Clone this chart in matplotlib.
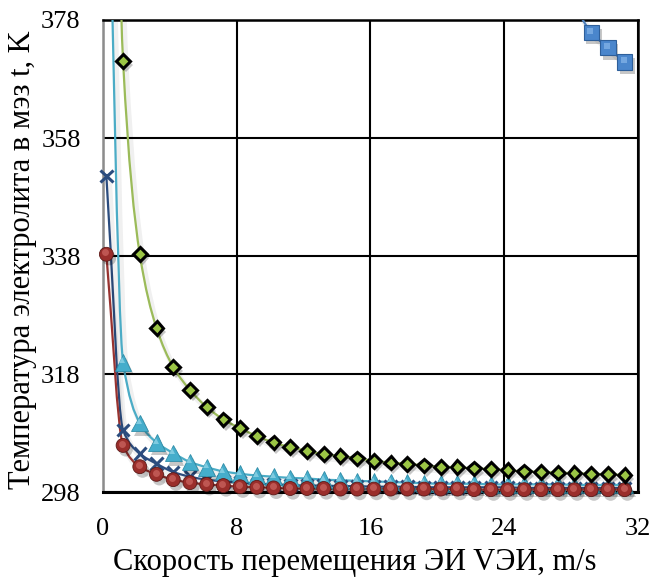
import numpy as np
import matplotlib
matplotlib.use("Agg")
import matplotlib.pyplot as plt
from matplotlib.path import Path
from matplotlib.patches import PathPatch
from matplotlib.transforms import Bbox, TransformedBbox, offset_copy
import matplotlib.patheffects as pe

plt.rcParams["font.family"] = ["Liberation Serif", "DejaVu Serif"]

# velocity of the electrode tool, m/s
x = [0.2, 1.2, 2.2, 3.2, 4.2, 5.2, 6.2, 7.2, 8.2, 9.2, 10.2, 11.2, 12.2, 13.2, 14.2, 15.2,
     16.2, 17.2, 18.2, 19.2, 20.2, 21.2, 22.2, 23.2, 24.2, 25.2, 26.2, 27.2, 28.2, 29.2, 30.2, 31.2]

t_diamond = [520.0, 371.0, 338.3, 325.8, 319.2, 315.3, 312.4, 310.3, 308.8, 307.5, 306.4, 305.6,
             305.0, 304.4, 304.1, 303.7, 303.3, 303.0, 302.8, 302.5, 302.3, 302.2, 302.0, 301.9,
             301.7, 301.5, 301.4, 301.3, 301.2, 301.1, 301.0, 300.9]
t_triangle = [422.0, 320.0, 309.7, 306.4, 304.6, 303.1, 302.2, 301.5, 301.1, 300.8, 300.6, 300.4,
              300.3, 300.1, 300.0, 299.9, 299.8, 299.7, 299.6, 299.5, 299.4, 299.4, 299.4, 299.3,
              299.3, 299.3, 299.3, 299.3, 299.2, 299.2, 299.2, 299.2]
t_cross = [351.6, 308.5, 304.5, 302.8, 301.4, 300.6, 300.1, 299.8, 299.6, 299.4, 299.3, 299.2,
           299.1, 299.1, 299.0, 299.0, 298.9, 298.9, 298.9, 298.8, 298.8, 298.8, 298.8, 298.8,
           298.8, 298.7, 298.7, 298.7, 298.7, 298.7, 298.7, 298.7]
t_circle = [338.3, 305.9, 302.3, 301.0, 300.1, 299.6, 299.3, 299.1, 298.9, 298.8, 298.7, 298.6,
            298.6, 298.6, 298.5, 298.5, 298.5, 298.5, 298.5, 298.5, 298.5, 298.5, 298.4, 298.4,
            298.4, 298.4, 298.4, 298.4, 298.4, 298.4, 298.4, 298.4]
x_square = [24.2, 25.2, 26.2, 27.2, 28.2, 29.2, 30.2, 31.2]
t_square = [392.0, 388.3, 384.8, 382.0, 380.0, 375.9, 373.3, 370.9]

xticks = [0, 8, 16, 24, 32]
yticks = [298, 318, 338, 358, 378]


def smooth_path(xs, ys):
    # monotone cubic (Bezier form) through the points, like the smoothed lines of the original
    xs = np.asarray(xs, float)
    ys = np.asarray(ys, float)
    h = np.diff(xs)
    d = np.diff(ys) / h
    m = np.empty_like(ys)
    m[0], m[-1] = d[0], d[-1]
    for i in range(1, len(ys) - 1):
        if d[i - 1] * d[i] <= 0:
            m[i] = 0.0
        else:
            m[i] = 2.0 / (1.0 / d[i - 1] + 1.0 / d[i])
    verts = [(xs[0], ys[0])]
    codes = [Path.MOVETO]
    for i in range(len(xs) - 1):
        verts += [(xs[i] + h[i] / 3, ys[i] + m[i] * h[i] / 3),
                  (xs[i + 1] - h[i] / 3, ys[i + 1] - m[i + 1] * h[i] / 3),
                  (xs[i + 1], ys[i + 1])]
        codes += [Path.CURVE4] * 3
    return Path(verts, codes)


fig = plt.figure(figsize=(6.52, 5.83), dpi=100)
ax = fig.add_axes([0.158, 0.156, 0.8205, 0.8097])

line_fx = [pe.SimpleLineShadow(offset=(2, -3), alpha=0.06, shadow_color="k", linewidth=4), pe.Normal()]
mark_fx = [pe.SimplePatchShadow(offset=(2, -3), alpha=0.22, shadow_rgbFace="k"), pe.Normal()]

# markers may hang a little below and right of the frame, but not above it
mark_clip = TransformedBbox(Bbox([[-0.03, -0.04], [1.03, 1.0]]), ax.transAxes)
shine = offset_copy(ax.transData, fig=fig, x=-1.0, y=1.8, units="dots")

series = [
    (x, t_cross, "#2B4C7E", dict(marker="x", ms=9, mew=2.2, mec="#2B4C7E", mfc="#2B4C7E"), None),
    (x, t_triangle, "#4BACC6", dict(marker="^", ms=12, mew=0.6, mec="#2F8DA8", mfc="#45ADCB"),
     dict(marker="^", ms=5, mew=0, mfc="#8ED3E6")),
    (x, t_circle, "#983330", dict(marker="o", ms=10, mew=0.6, mec="#5E1A18", mfc="#9A2E2B"),
     dict(marker="o", ms=5, mew=0, mfc="#C8615C")),
    (x, t_diamond, "#9BBB59", dict(marker="D", ms=7, mew=2.2, mec="black", mfc="#9BC545"),
     None),
    (x_square, t_square, "#4F81BD", dict(marker="s", ms=11, mew=0.8, mec="#2E5F9A", mfc="#4A86CC"),
     dict(marker="s", ms=5, mew=0, mfc="#7FB0E6")),
]

for z, (xs, ys, col, mk, hi) in enumerate(series):
    patch = PathPatch(smooth_path(xs, ys), fill=False, edgecolor=col, lw=1.6,
                      zorder=3 + z * 0.1, path_effects=line_fx)
    ax.add_patch(patch)
    (mline,) = ax.plot(xs, ys, ls="none", zorder=4 + z * 0.1, path_effects=mark_fx, **mk)
    mline.set_clip_box(mark_clip)
    if hi is not None:
        (hline,) = ax.plot(xs, ys, ls="none", zorder=4.05 + z * 0.1, alpha=0.8,
                           transform=shine, **hi)
        hline.set_clip_box(mark_clip)

ax.set_xlim(0, 32)
ax.set_ylim(298, 378)
ax.set_xticks(xticks)
ax.set_yticks(yticks)
ax.tick_params(length=0, labelsize=19)
ax.tick_params(axis="x", pad=19)
ax.tick_params(axis="y", pad=16)
ax.grid(True, color="black", lw=1.5)
ax.set_axisbelow(True)
for s in ["top", "right"]:
    ax.spines[s].set_linewidth(1.8)
    ax.spines[s].set_color("black")
ax.spines["left"].set_color("#8C8C8C")
ax.spines["left"].set_linewidth(1.8)
ax.spines["bottom"].set_linewidth(2.2)

fig.text(0.034, 0.554, "Температура электролита в мэз t, K", rotation=90,
         ha="center", va="center", fontsize=22)
fig.text(0.544, 0.036, "Скорость перемещения ЭИ VЭИ, m/s", ha="center", va="center",
         fontsize=22)

fig.savefig("out.png", dpi=100)
